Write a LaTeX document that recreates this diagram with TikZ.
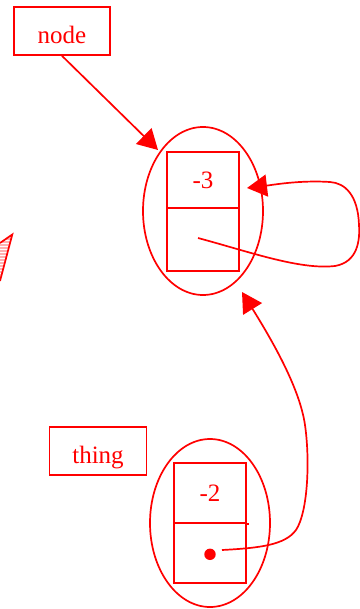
\documentclass[tikz,border=0pt]{standalone}
\usepackage{fontspec}
\setmainfont{Liberation Serif}
\usetikzlibrary{shapes.geometric,arrows.meta}
\begin{document}
\begin{tikzpicture}[x=1pt,y=-1pt,
  every node/.style={text=red},
  lbl/.style={draw=red,line width=1.7pt,rectangle,inner sep=0pt,text height=25pt,text depth=0pt,font=\fontsize{25}{30}\selectfont},
  oval/.style={draw=red,line width=1.7pt,ellipse,inner sep=0pt,minimum width=120pt,minimum height=168pt},
  cell/.style={draw=red,line width=1.7pt,rectangle,inner sep=0pt,minimum width=72pt,font=\fontsize{25}{30}\selectfont},
  edge/.style={draw=red,line width=1.7pt,-{Triangle[length=20pt,width=22pt]}}]
\useasboundingbox (0,0) rectangle (359,609);
% clipped hatched shape at the left edge
\begin{scope}
  \clip (0,243) -- (12.3,234.5) -- (0,281) -- cycle;
  \foreach \yy in {236,239,...,281} {\draw[red!30,line width=1.5pt] (0,\yy) -- (14,\yy);}
\end{scope}
\draw[red,line width=1.7pt,line join=miter] (0,243) -- (12.3,234.5) -- (0,281);
% labels
\node[lbl,minimum width=96pt,minimum height=48pt] (n1) at (62,31) {node};
\node[lbl,minimum width=97pt,minimum height=48pt] (t1) at (98,451) {thing};
% top record
\node[oval] (e1) at (203,211) {};
\node[cell,minimum height=56pt] (a1) at (203,180) {-3};
\node[cell,minimum height=63pt] (a2) at (203,239.5) {};
% bottom record
\node[oval] (e2) at (210,523) {};
\node[cell,minimum height=60pt] (b1) at (210,493) {-2};
\node[cell,minimum height=60pt] (b2) at (210,553) {};
\draw[red,line width=1.7pt] (b1.south east) -- ++(2.5,0);
\fill[red] (210,554.3) circle (5.7pt);
% connector endpoints
\coordinate (ntip) at (158,150);
\coordinate (ltip) at (247,188);
\coordinate (lstart) at (198,238);
\coordinate (btip) at (242,292);
\coordinate (bstart) at (222,550);
% edges
\draw[edge] (n1.south) -- (ntip);
\draw[edge] (lstart) .. controls (250,252) and (300,270) .. (335,266)
  .. controls (358,262) and (360,240) .. (359,225)
  .. controls (358,195) and (345,183) .. (330,182)
  .. controls (300,180) and (272,185) .. (ltip);
\draw[edge] (bstart) .. controls (260,548) and (285,545) .. (296,530)
  .. controls (308,512) and (310,460) .. (305,425)
  .. controls (300,390) and (275,345) .. (btip);
\end{tikzpicture}
\end{document}
